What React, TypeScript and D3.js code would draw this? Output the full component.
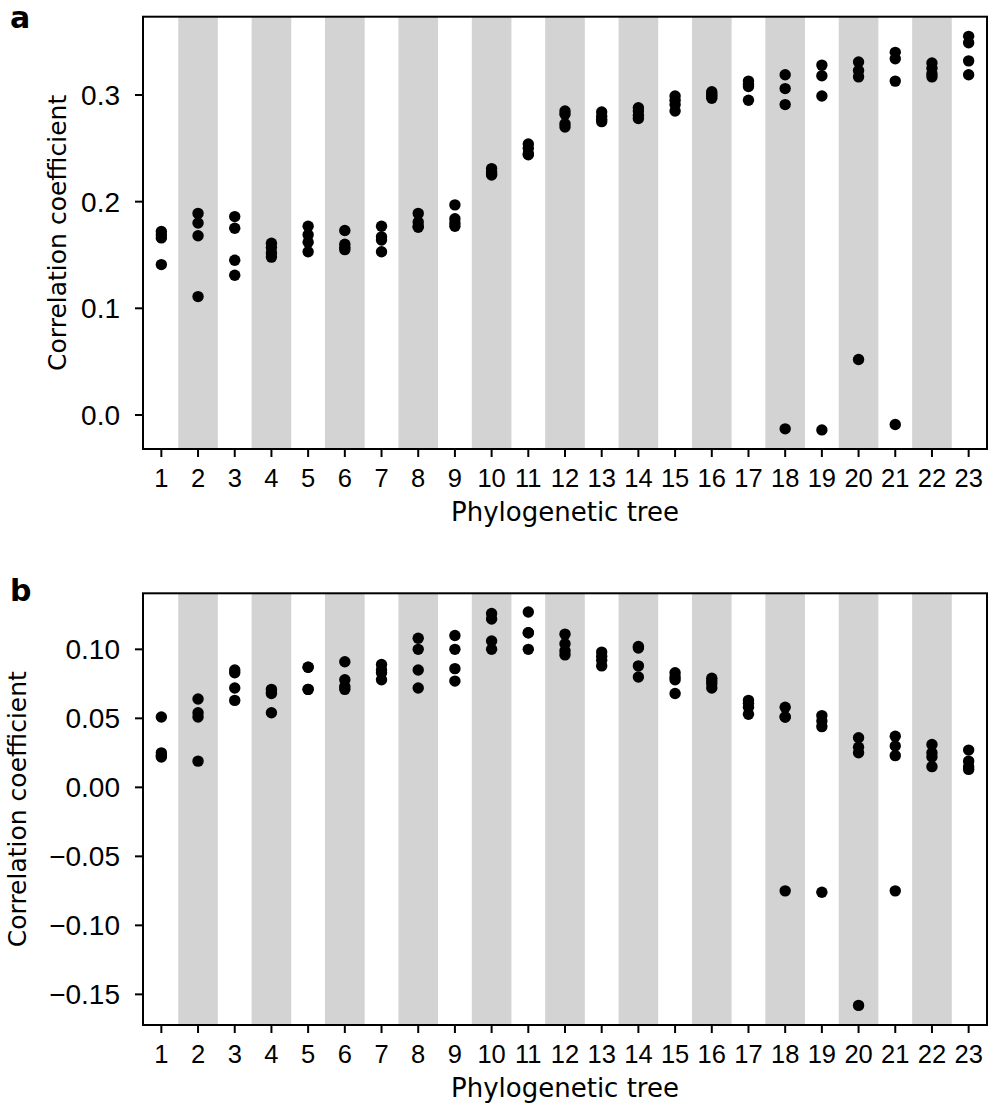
import React from "react";
import * as d3 from "d3";

const categories = d3.range(1, 24);

const corrA: number[][] = [
  [0.172, 0.169, 0.166, 0.141],
  [0.189, 0.180, 0.168, 0.111],
  [0.186, 0.175, 0.145, 0.131],
  [0.161, 0.157, 0.152, 0.148],
  [0.177, 0.169, 0.162, 0.153],
  [0.173, 0.160, 0.157, 0.155],
  [0.177, 0.167, 0.164, 0.153],
  [0.189, 0.181, 0.177, 0.176],
  [0.197, 0.184, 0.180, 0.177],
  [0.231, 0.228, 0.226, 0.225],
  [0.254, 0.250, 0.245, 0.244],
  [0.285, 0.282, 0.273, 0.270],
  [0.284, 0.280, 0.277, 0.275],
  [0.288, 0.285, 0.281, 0.278],
  [0.299, 0.295, 0.291, 0.285],
  [0.303, 0.301, 0.299, 0.297],
  [0.313, 0.310, 0.308, 0.295],
  [0.319, 0.306, 0.291, -0.013],
  [0.328, 0.318, 0.299, -0.014],
  [0.331, 0.323, 0.317, 0.052],
  [0.340, 0.334, 0.313, -0.009],
  [0.330, 0.325, 0.320, 0.317],
  [0.355, 0.349, 0.332, 0.319],
];

const corrB: number[][] = [
  [0.051, 0.025, 0.023, 0.022],
  [0.064, 0.054, 0.051, 0.019],
  [0.085, 0.083, 0.072, 0.063],
  [0.071, 0.069, 0.068, 0.054],
  [0.087, 0.087, 0.071, 0.071],
  [0.091, 0.078, 0.073, 0.071],
  [0.089, 0.085, 0.083, 0.078],
  [0.108, 0.100, 0.085, 0.072],
  [0.110, 0.100, 0.086, 0.077],
  [0.126, 0.122, 0.106, 0.100],
  [0.127, 0.112, 0.112, 0.100],
  [0.111, 0.104, 0.099, 0.096],
  [0.098, 0.095, 0.092, 0.088],
  [0.102, 0.101, 0.088, 0.080],
  [0.083, 0.080, 0.078, 0.068],
  [0.079, 0.077, 0.075, 0.072],
  [0.063, 0.061, 0.058, 0.053],
  [0.058, 0.051, 0.051, -0.075],
  [0.052, 0.048, 0.044, -0.076],
  [0.036, 0.029, 0.025, -0.158],
  [0.037, 0.030, 0.023, -0.075],
  [0.031, 0.025, 0.022, 0.015],
  [0.027, 0.019, 0.015, 0.013],
];

const yTicksA = [0.0, 0.1, 0.2, 0.3];
const yTicksB = [-0.15, -0.1, -0.05, 0.0, 0.05, 0.1];
const yDomainA: [number, number] = [-0.0319, 0.3734];
const yDomainB: [number, number] = [-0.1722, 0.1406];

const W = 989;
const H = 1109;
const LEFT = 143;
const RIGHT = 987;

const tickFont = "'Liberation Sans', Arial, sans-serif";
const labelFont = "'DejaVu Sans', Verdana, sans-serif";

function fmtA(v: number) {
  return d3.format(".1f")(v);
}
function fmtB(v: number) {
  return d3.format(".2f")(v).replace("-", "\u2212");
}

type PanelProps = {
  top: number;
  bottom: number;
  data: number[][];
  domain: [number, number];
  ticks: number[];
  fmt: (v: number) => string;
  letter: string;
  letterY: number;
  ylabelX: number;
};

function Panel({ top, bottom, data, domain, ticks, fmt, letter, letterY, ylabelX }: PanelProps) {
  const x = d3.scaleLinear().domain([0.5, 23.5]).range([LEFT, RIGHT]);
  const y = d3.scaleLinear().domain(domain).range([bottom, top]);
  const bandHalf = 0.54;
  return (
    <g>
      {categories
        .filter((c) => c % 2 === 0)
        .map((c) => (
          <rect
            key={"band" + c}
            x={x(c - bandHalf)}
            y={top}
            width={x(c + bandHalf) - x(c - bandHalf)}
            height={bottom - top}
            fill="#d3d3d3"
          />
        ))}
      {data.map((vals, i) =>
        vals.map((v, j) => (
          <circle key={`p${i}-${j}`} cx={x(categories[i])} cy={y(v)} r={5.7} fill="#000" />
        ))
      )}
      <rect
        x={LEFT}
        y={top}
        width={RIGHT - LEFT}
        height={bottom - top}
        fill="none"
        stroke="#000"
        strokeWidth={2}
      />
      {categories.map((c) => (
        <g key={"xt" + c}>
          <line x1={x(c)} x2={x(c)} y1={bottom} y2={bottom + 8} stroke="#000" strokeWidth={2} />
          <text
            x={x(c)}
            y={bottom + 38}
            textAnchor="middle"
            fontFamily={tickFont}
            fontSize={25.5}
            fill="#000"
          >
            {c}
          </text>
        </g>
      ))}
      {ticks.map((t) => (
        <g key={"yt" + t}>
          <line x1={LEFT - 8} x2={LEFT} y1={y(t)} y2={y(t)} stroke="#000" strokeWidth={2} />
          <text
            x={LEFT - 23}
            y={y(t)}
            dy="0.36em"
            textAnchor="end"
            fontFamily={tickFont}
            fontSize={28}
            fill="#000"
          >
            {fmt(t)}
          </text>
        </g>
      ))}
      <text
        x={(LEFT + RIGHT) / 2}
        y={bottom + 72}
        textAnchor="middle"
        fontFamily={labelFont}
        fontSize={26}
        fill="#000"
      >
        Phylogenetic tree
      </text>
      <text
        transform={`translate(${ylabelX},${(top + bottom) / 2}) rotate(-90)`}
        textAnchor="middle"
        dy="0.36em"
        fontFamily={labelFont}
        fontSize={25}
        fill="#000"
      >
        Correlation coefficient
      </text>
      <text
        x={10}
        y={letterY}
        fontFamily={labelFont}
        fontWeight="bold"
        fontSize={30}
        fill="#000"
      >
        {letter}
      </text>
    </g>
  );
}

export default function App() {
  return (
    <svg
      width={W}
      height={H}
      style={{ position: "absolute", left: 0, top: 0, background: "#fff" }}
    >
      <rect x={0} y={0} width={W} height={H} fill="#fff" />
      <Panel
        top={16.7}
        bottom={449}
        data={corrA}
        domain={yDomainA}
        ticks={yTicksA}
        fmt={fmtA}
        letter="a"
        letterY={28}
        ylabelX={57}
      />
      <Panel
        top={593.3}
        bottom={1025}
        data={corrB}
        domain={yDomainB}
        ticks={yTicksB}
        fmt={fmtB}
        letter="b"
        letterY={601}
        ylabelX={17}
      />
    </svg>
  );
}
